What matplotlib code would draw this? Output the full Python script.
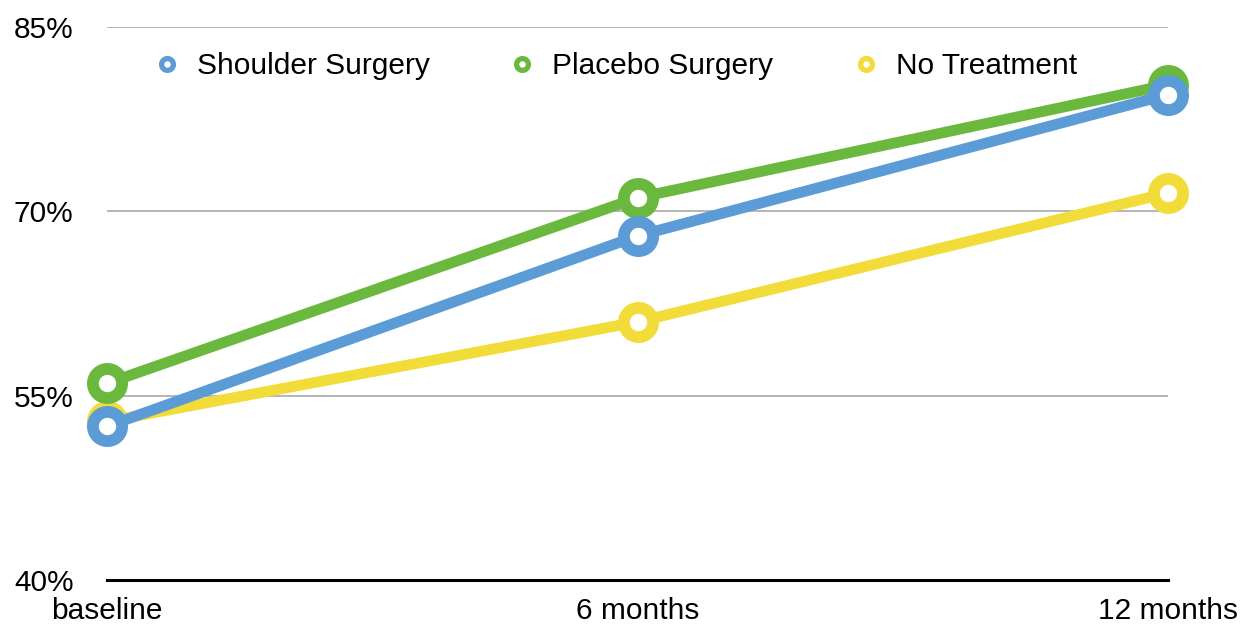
import numpy as np
import matplotlib as mpl
mpl.use("Agg")
import matplotlib.pyplot as plt
from matplotlib.lines import Line2D

# data (percent)
timepoints = ["baseline", "6 months", "12 months"]
shoulder = [52.5, 68.0, 79.5]
placebo = [56.0, 71.1, 80.3]
no_treatment = [52.9, 61.0, 71.5]
yticks = [40, 55, 70, 85]

series = [
    ("No Treatment", no_treatment, "#f2dc3a"),
    ("Placebo Surgery", placebo, "#6ab93e"),
    ("Shoulder Surgery", shoulder, "#5b9bd6"),
]

plt.rcParams["font.family"] = ["Liberation Sans", "DejaVu Sans"]

fig = plt.figure(figsize=(12.47, 6.31), dpi=100, facecolor="w")
ax = fig.add_axes([107/1247, 1 - 580/631, (1168-107)/1247, (580-27)/631])

x = np.arange(len(timepoints))
for name, vals, col in series:
    ax.plot(x, vals, color=col, lw=7.8, marker="o", ms=21, mew=8.5,
            mfc="white", mec=col, clip_on=False, solid_capstyle="round")

ax.set_xlim(0, 2)
ax.set_ylim(40, 85)
ax.set_yticks(yticks)
ax.set_yticklabels([f"{v}%" for v in yticks])
ax.set_xticks(x)
ax.set_xticklabels(timepoints)
ax.tick_params(axis="y", length=0, pad=24, labelsize=21.5)
ax.tick_params(axis="x", length=0, pad=12, labelsize=21.5)
ax.grid(axis="y", color="#b0b0b0", lw=1.3)
ax.set_axisbelow(True)
for s in ["left", "right", "top"]:
    ax.spines[s].set_visible(False)
ax.spines["bottom"].set_color("black")
ax.spines["bottom"].set_linewidth(2.2)
ax.spines["bottom"].set_zorder(3)

# legend with small ring markers
order = [2, 1, 0]
handles = [Line2D([], [], ls="none", marker="o", ms=8.5, mew=3.8, mfc="white",
                  mec=series[i][2]) for i in order]
labels = [series[i][0] for i in order]
fig.legend(handles, labels, loc="center left", bbox_to_anchor=(158/1247, 1 - 66/631),
           ncol=3, frameon=False, fontsize=21.5, handlelength=0.6,
           handletextpad=0.7, columnspacing=2.8, borderpad=0, borderaxespad=0)

fig.savefig("out.png", dpi=100, facecolor="w")
